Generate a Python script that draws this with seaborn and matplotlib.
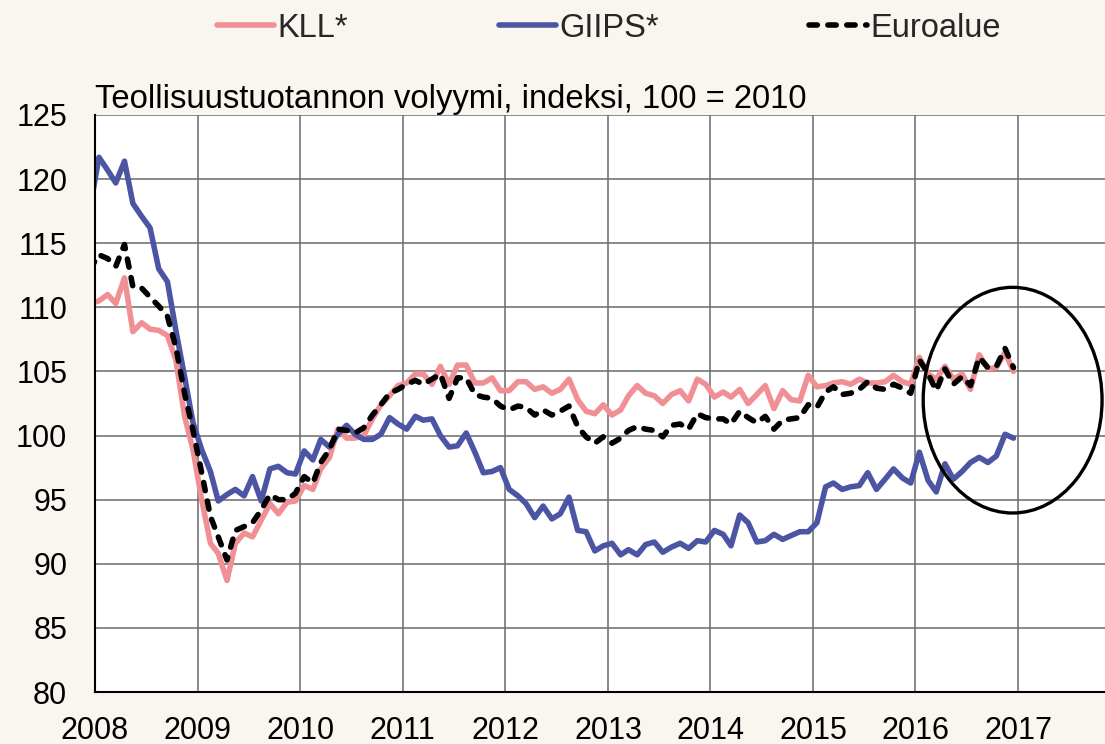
import numpy as np
import pandas as pd
import matplotlib
matplotlib.use("Agg")
import matplotlib.pyplot as plt
import matplotlib.dates as mdates
from matplotlib.patches import Ellipse
import seaborn as sns

# ---- data (monthly, Dec 2007 .. Dec 2016; first point clipped by the axis) ----
months = pd.date_range("2007-12-01", periods=109, freq="MS") + pd.Timedelta(days=14)

kll = [110.3,
       110.5, 111.0, 110.3, 112.3, 108.1, 108.8, 108.3, 108.2, 107.8, 105.9, 101.5, 98.9,
       95.0, 91.6, 90.8, 88.7, 91.6, 92.4, 92.1, 93.4, 94.7, 93.9,
       94.8, 94.9, 96.1, 95.8, 97.4, 98.3, 100.5, 99.8, 99.8, 100.0, 101.3, 102.4, 103.1,
       103.9, 104.1, 104.8, 104.8, 104.0, 105.4, 104.0, 105.5,
       105.5, 104.1, 104.1, 104.5, 103.5, 103.5, 104.2, 104.2, 103.6, 103.8, 103.3, 103.6,
       104.4, 102.8, 101.9, 101.7, 102.4, 101.6, 102.0, 103.1, 103.9, 103.3,
       103.1, 102.5, 103.2, 103.5, 102.7, 104.4, 104.0, 103.0, 103.4, 103.0, 103.6, 102.5,
       103.2, 103.9, 102.1, 103.5, 102.8, 102.7, 104.7, 103.8, 103.9, 104.1,
       104.2, 104.0, 104.4, 104.1, 104.1, 104.2, 104.7, 104.2, 104.0, 106.1, 104.8, 104.4,
       105.4, 104.4, 104.8, 103.6, 106.3, 105.2, 105.3, 106.5, 105.0]

giips = [117.8,
         121.7, 120.7, 119.7, 121.4, 118.1, 117.1, 116.2, 113.0, 112.0, 108.2, 104.6, 101.0,
         98.9, 97.2, 94.9, 95.4, 95.8, 95.3, 96.8, 94.9, 97.4, 97.6,
         97.1, 97.0, 98.8, 98.1, 99.7, 99.1, 100.1, 100.8, 100.1, 99.7, 99.7, 100.1, 101.4,
         100.9, 100.5, 101.5, 101.2, 101.3, 100.0, 99.1, 99.2,
         100.2, 98.7, 97.1, 97.2, 97.5, 95.8, 95.3, 94.7, 93.6, 94.5, 93.5, 93.9,
         95.2, 92.6, 92.5, 91.0, 91.4, 91.6, 90.7, 91.1, 90.7, 91.5,
         91.7, 90.9, 91.3, 91.6, 91.2, 91.8, 91.7, 92.6, 92.3, 91.4, 93.8, 93.2,
         91.7, 91.8, 92.3, 91.9, 92.2, 92.5, 92.5, 93.2, 96.0, 96.3,
         95.8, 96.0, 96.1, 97.1, 95.8, 96.6, 97.4, 96.7, 96.3, 98.7, 96.5, 95.6,
         97.8, 96.6, 97.2, 97.9, 98.3, 97.9, 98.4, 100.1, 99.8]

euro = [113.0,
        114.1, 113.8, 113.2, 114.9, 111.6, 111.5, 110.8, 110.1, 109.3, 106.9, 103.3, 100.4,
        97.1, 93.7, 92.1, 90.3, 92.6, 92.9, 93.2, 94.2, 95.4, 95.0,
        95.0, 95.5, 96.8, 96.3, 97.9, 98.9, 100.5, 100.4, 100.2, 100.6, 101.6, 102.4, 103.3,
        103.6, 104.0, 104.3, 104.0, 104.4, 104.8, 102.9, 104.5,
        104.5, 103.2, 103.0, 102.9, 102.3, 102.0, 102.3, 102.2, 101.6, 102.0, 101.6, 101.9,
        102.3, 100.7, 99.9, 99.4, 99.9, 99.4, 99.8, 100.4, 100.7, 100.5,
        100.4, 99.9, 100.8, 100.9, 100.5, 101.7, 101.4, 101.3, 101.3, 100.9, 101.9, 101.4,
        101.0, 101.5, 100.5, 101.2, 101.3, 101.4, 102.4, 102.2, 103.4, 103.8,
        103.2, 103.3, 103.6, 104.2, 103.7, 103.6, 104.0, 103.7, 103.3, 105.9, 104.8, 103.5,
        105.2, 104.0, 104.6, 103.9, 106.1, 105.3, 105.4, 106.8, 105.3]

series_labels = ["KLL*", "GIIPS*", "Euroalue"]
title_text = "Teollisuustuotannon volyymi, indeksi, 100 = 2010"

# highlighted region (ellipse): centre date/value, width in days, height in index points
ellipse_center = (pd.Timestamp("2016-12-12"), 102.76)
ellipse_size = (637, 17.6)

# ---- styling ----
BG = "#F9F5EF"
PINK = "#F09095"
BLUE = "#4B55A3"
FS = 22

sns.set_style("white")
plt.rcParams["font.family"] = ["Liberation Sans", "DejaVu Sans"]

df = pd.DataFrame({"date": months, series_labels[0]: kll,
                   series_labels[1]: giips, series_labels[2]: euro})

fig = plt.figure(figsize=(11.05, 7.44), dpi=100, facecolor=BG)
ax = fig.add_axes([95 / 1105, 52 / 744, 1010 / 1105, 577 / 744])
ax.set_facecolor("white")

lw = 4.0
sns.lineplot(data=df, x="date", y=series_labels[0], color=PINK, linewidth=lw,
             label=series_labels[0], ax=ax, solid_capstyle="round", solid_joinstyle="round")
sns.lineplot(data=df, x="date", y=series_labels[1], color=BLUE, linewidth=lw,
             label=series_labels[1], ax=ax, solid_capstyle="round", solid_joinstyle="round")
sns.lineplot(data=df, x="date", y=series_labels[2], color="black", linewidth=lw,
             label=series_labels[2], ax=ax, linestyle=(0, (1.5, 1.9)),
             dash_capstyle="round", dash_joinstyle="round")

ax.set_xlim(pd.Timestamp("2008-01-01"), pd.Timestamp("2017-11-06"))
ax.set_ylim(80, 125)
ax.set_yticks(np.arange(80, 126, 5))
ax.xaxis.set_major_locator(mdates.YearLocator())
ax.xaxis.set_major_formatter(mdates.DateFormatter("%Y"))
ax.xaxis.set_minor_locator(mdates.MonthLocator())
ax.set_xlabel("")
ax.set_ylabel("")

ax.grid(True, which="major", color="#6a6a6a", linewidth=1.1)
ax.set_axisbelow(True)
for s in ["top", "right"]:
    ax.spines[s].set_visible(False)
for s in ["left", "bottom"]:
    ax.spines[s].set_color("black")
    ax.spines[s].set_linewidth(1.5)
    ax.spines[s].set_zorder(5)

ax.tick_params(axis="y", length=0, pad=20, labelsize=FS, colors="black")
ax.tick_params(axis="x", which="major", direction="in", length=5, pad=17,
               labelsize=FS, colors="black")
ax.tick_params(axis="x", which="minor", direction="in", length=3.5, width=0.8,
               colors="black")

ax.text(0.0, 1.0, title_text, transform=ax.transAxes, ha="left", va="bottom",
        fontsize=23.6, color="black")

# ellipse highlight
ell = Ellipse((mdates.date2num(ellipse_center[0]), ellipse_center[1]),
              width=ellipse_size[0], height=ellipse_size[1],
              fill=False, edgecolor="black", linewidth=2.4, zorder=6, clip_on=False)
ax.add_patch(ell)

handles, labels = ax.get_legend_handles_labels()
if ax.get_legend() is not None:
    ax.get_legend().remove()
fig.legend(handles, labels, loc="center", bbox_to_anchor=(0.551, 0.962), ncol=3,
           frameon=False, fontsize=23.5, handlelength=1.75, handletextpad=0.12,
           columnspacing=4.6)

fig.savefig("out.png", dpi=100, facecolor=BG)
